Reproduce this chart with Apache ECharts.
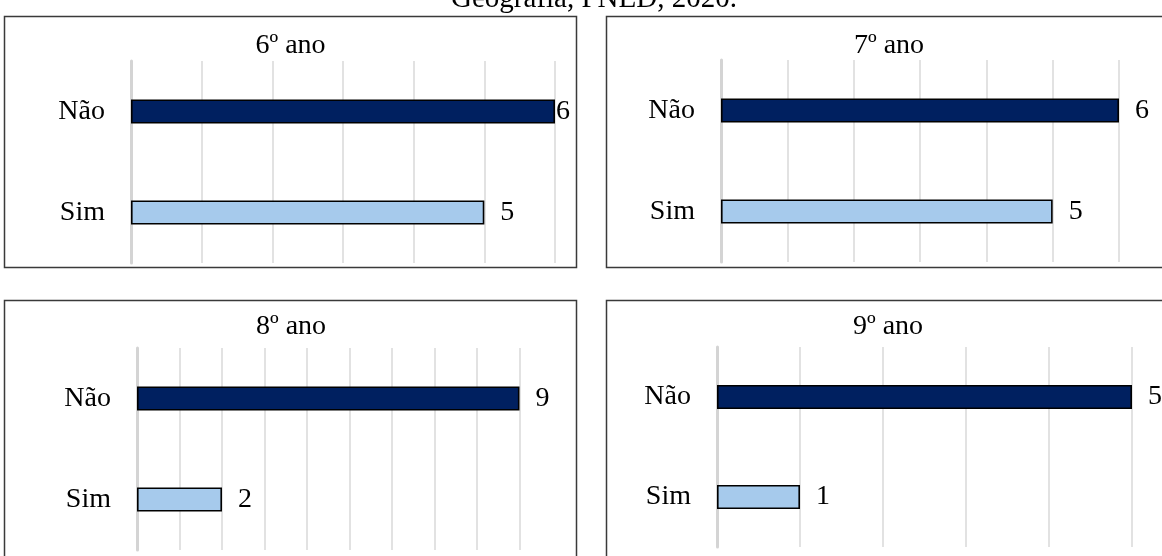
<!DOCTYPE html>
<html>
<head>
<meta charset="utf-8">
<script src="https://cdn.jsdelivr.net/npm/echarts@6/dist/echarts.min.js"></script>
<style>
html,body{margin:0;padding:0;background:#fff;}
#chart{width:1162px;height:556px;}
</style>
</head>
<body>
<div id="chart"></div>
<script>
// ---- data ----
const mainTitle = 'Geografia, PNED, 2020.';
const categories = ['Sim', 'Não'];
const panelTitles = ['6º ano', '7º ano', '8º ano', '9º ano'];
const simValues = [5, 5, 2, 1];
const naoValues = [6, 6, 9, 5];
const axisMax = [6, 6, 9, 5];

// ---- layout ----
const FONT = '"Liberation Serif", "Times New Roman", serif';
const grids = [
  { left: 131, top: 61, width: 424, height: 202 },
  { left: 721, top: 60, width: 398, height: 202 },
  { left: 137, top: 348, width: 382.5, height: 202 },
  { left: 717, top: 347, width: 415, height: 200 }
];
const titlePos = [[290.5, 46], [889, 46], [291, 327], [888, 327]];
const boxes = [
  { x: 4.5, y: 16.5, width: 572, height: 251 },
  { x: 606.5, y: 16.5, width: 600, height: 251 },
  { x: 4.5, y: 300.5, width: 572, height: 300 },
  { x: 606.5, y: 300.5, width: 600, height: 300 }
];
const colorSim = '#A6CAEC';
const colorNao = '#002060';

const xAxes = [], yAxes = [], series = [], graphics = [];

grids.forEach((g, i) => {
  xAxes.push({
    type: 'value', gridIndex: i, min: 0, max: axisMax[i], interval: 1,
    axisLabel: { show: false }, axisLine: { show: false }, axisTick: { show: false },
    splitLine: { show: true, lineStyle: { color: '#d9d9d9', width: 1.5 } }
  });
  yAxes.push({
    type: 'category', gridIndex: i, data: categories,
    axisTick: { show: false },
    axisLine: { show: true, lineStyle: { color: '#d4d4d4', width: 3 } },
    axisLabel: { fontFamily: FONT, fontSize: 28, color: '#000', margin: 26 }
  });
  const vals = [simValues[i], naoValues[i]];
  const cols = [colorSim, colorNao];
  series.push({
    type: 'bar', xAxisIndex: i, yAxisIndex: i, barWidth: 24,
    data: vals.map((v, k) => {
      const item = { value: v, itemStyle: { color: cols[k] } };
      // the first panel's top label sits against the plot edge
      if (i === 0 && k === 1) item.label = { distance: 1 };
      return item;
    }),
    itemStyle: { borderColor: '#000', borderWidth: 1.6 },
    label: { show: true, position: 'right', distance: 16, fontFamily: FONT, fontSize: 28, color: '#000' },
    silent: true, animation: false
  });
  graphics.push({
    type: 'rect', shape: boxes[i], silent: true, z: 100,
    style: { fill: 'none', stroke: '#3a3a3a', lineWidth: 1.5 }
  });
  graphics.push({
    type: 'text', x: titlePos[i][0], y: titlePos[i][1], silent: true,
    style: { text: panelTitles[i], font: '28px ' + FONT, fill: '#000', textAlign: 'center', textVerticalAlign: 'middle', verticalAlign: 'middle' }
  });
});

graphics.push({
  type: 'text', x: 594, y: -1, silent: true,
  style: { text: mainTitle, font: '29px ' + FONT, fill: '#000', textAlign: 'center', textVerticalAlign: 'middle', verticalAlign: 'middle' }
});

const chart = echarts.init(document.getElementById('chart'), null, { renderer: 'canvas' });
chart.setOption({
  animation: false,
  backgroundColor: '#fff',
  grid: grids.map(g => Object.assign({ containLabel: false }, g)),
  xAxis: xAxes,
  yAxis: yAxes,
  series: series,
  graphic: graphics
});
</script>
</body>
</html>
